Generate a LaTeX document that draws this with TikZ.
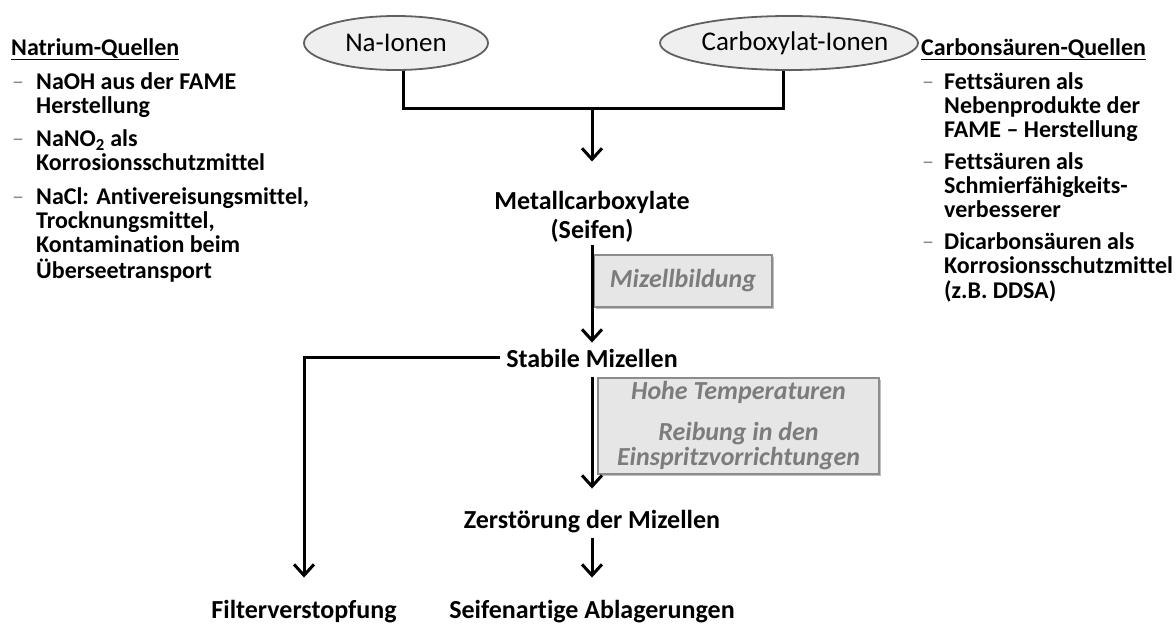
\documentclass[tikz,border=0pt]{standalone}
\usepackage{fontspec}
\setmainfont{Carlito}[Ligatures=NoCommon]
\usetikzlibrary{shapes.geometric,arrows.meta,shadows,calc}

\definecolor{ellfill}{HTML}{EFEFEF}
\definecolor{ellline}{HTML}{606060}
\definecolor{boxfill}{HTML}{E6E6E6}
\definecolor{boxline}{HTML}{8C8C8C}
\definecolor{boxtext}{HTML}{7C7C7C}
\definecolor{markgray}{HTML}{8A8A8A}

% stacked lines whose baseline is that of the first line
\newcommand{\leftlines}[1]{\begin{tabular}[t]{@{}l@{}}#1\end{tabular}}
\newcommand{\midlines}[1]{\begin{tabular}[t]{@{}c@{}}#1\end{tabular}}

\tikzset{
  listtext/.style={font=\bfseries\fontsize{24}{23.5}\selectfont, inner sep=0pt, anchor=base west},
  listhead/.style={font=\bfseries\fontsize{24}{23.5}\selectfont, inner sep=0pt, anchor=base west},
  listmark/.style={font=\fontsize{24}{23.5}\selectfont, text=markgray, inner sep=0pt, anchor=base west},
  ion/.style={ellipse, draw=ellline, line width=1.8pt, fill=ellfill, minimum height=54pt,
              inner xsep=-40pt, inner ysep=0pt,
              font=\fontsize{27}{30}\selectfont, text=black},
  stage/.style={font=\bfseries\fontsize{26}{29}\selectfont, inner sep=0pt, anchor=base},
  cond/.style={draw=boxline, line width=1.3pt, fill=boxfill, text=boxtext, align=center, inner sep=0pt,
               font=\bfseries\itshape\fontsize{26}{25}\selectfont,
               drop shadow={shadow xshift=2pt, shadow yshift=-2pt, opacity=0.25, fill=black}},
  conn/.style={line width=3pt, black},
  flow/.style={conn, -{Straight Barb[length=11pt,width=20pt]}},
}

\begin{document}
\begin{tikzpicture}[x=1pt,y=-1pt]
\useasboundingbox (0,0) rectangle (1176,624);

% sodium sources
\node[listhead] (nahead) at (11,55) {\underline{Natrium-Quellen}};
\node[listmark] (nam1) at (12,89.5) {–};
\node[listtext] (na1) at (36,89.5) {\leftlines{NaOH aus der FAME\\Herstellung}};
\node[listmark] (nam2) at (12,146.5) {–};
\node[listtext] (na2) at (36,146.5) {\leftlines{NaNO\textsubscript{2} als\\Korrosionsschutzmittel}};
\node[listmark] (nam3) at (12,204.5) {–};
\node[listtext] (na3) at (36,204.5) {\leftlines{NaCl: Antivereisungsmittel,\\Trocknungsmittel,\\Kontamination beim\\Überseetransport}};

% carboxylic acid sources
\node[listhead] (cbhead) at (921,55) {\underline{Carbonsäuren-Quellen}};
\node[listmark] (cbm1) at (922,89.5) {–};
\node[listtext] (cb1) at (944,89.5) {\leftlines{Fettsäuren als\\Nebenprodukte der\\FAME – Herstellung}};
\node[listmark] (cbm2) at (922,169.5) {–};
\node[listtext] (cb2) at (944,169.5) {\leftlines{Fettsäuren als\\Schmierfähigkeits-\\verbesserer}};
\node[listmark] (cbm3) at (922,249.5) {–};
\node[listtext] (cb3) at (944,249.5) {\leftlines{Dicarbonsäuren als\\Korrosionsschutzmittel\\(z.B. DDSA)}};

% ions
\node[ion, minimum width=184pt] (na) at (396,43) {Na-Ionen};
\node[ion, minimum width=258pt] (cb) at (789,43) {\hspace*{12pt}Carboxylat-Ionen};
\coordinate (jl) at (403,108);
\coordinate (jr) at (783,108);
\coordinate (j) at (592,108);

% process chain
\node[stage] (metal) at (592,209) {\midlines{Metallcarboxylate\\(Seifen)}};
\node[stage] (stab) at (592,367) {Stabile Mizellen};
\node[stage] (zer) at (592,528) {Zerstörung der Mizellen};
\node[stage] (filt) at (304,618) {Filterverstopfung};
\node[stage] (seif) at (592,618) {Seifenartige Ablagerungen};

% conditions
\node[cond, minimum width=178pt, minimum height=52pt] (mz) at (683,281) {Mizellbildung};
\node[cond, minimum width=281pt, minimum height=96pt] (ht) at (738.5,426)
  {Hohe Temperaturen\\[16pt]Reibung in den\\Einspritzvorrichtungen};

% connectors
\draw[conn] (na.south -| jl) -- (jl) -- (jr) -- (cb.south -| jr);
\draw[flow] (j) -- ($(metal.north)+(0,-27)$);
\draw[flow] ($(metal.south)+(0,-2)$) -- ($(stab.north)+(0,-6)$);
\draw[flow] ($(stab.west)+(-6,0)$) -| ($(filt.north)+(0,-22)$);
\draw[flow] ($(stab.south)+(0,10)$) -- ($(zer.north)+(0,-21)$);
\draw[flow] ($(zer.south)+(0,5)$) -- ($(seif.north)+(0,-22)$);
\end{tikzpicture}
\end{document}
